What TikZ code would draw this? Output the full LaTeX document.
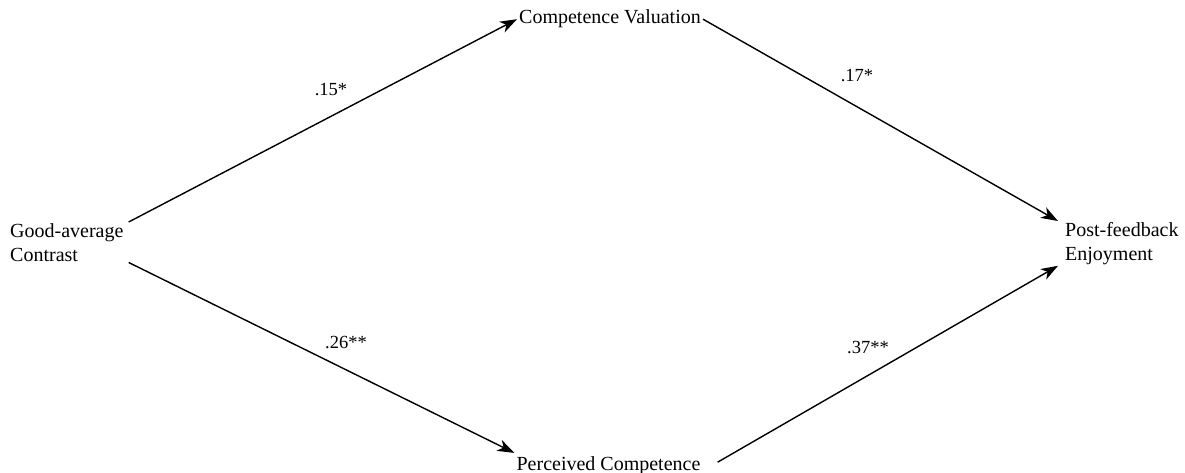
\documentclass[tikz,border=0pt]{standalone}
\usepackage{fontspec}
\setmainfont{Liberation Serif}
\usetikzlibrary{arrows.meta}
\begin{document}
\begin{tikzpicture}[x=1pt,y=-1pt,
  lbl/.style={font=\fontsize{20}{24}\selectfont, inner sep=0pt},
  side/.style={font=\fontsize{20}{24}\selectfont, align=left, inner xsep=5pt, inner ysep=1pt},
  mid/.style={font=\fontsize{20}{24}\selectfont, inner sep=2pt},
  coef/.style={font=\fontsize{18.5}{22}\selectfont, inner sep=0pt},
  path/.style={line width=1.4pt, -{Stealth[length=17pt,width=12pt,inset=5pt]}}]
\useasboundingbox (0,0) rectangle (1185,473);
\node[side, anchor=north west] (ga) at (5,222) {Good-average\\Contrast};
\node[mid, anchor=base] (cv) at (610,24) {Competence Valuation};
\node[mid, inner ysep=3pt, anchor=base] (pc) at (608.5,470) {Perceived Competence};
\node[side, inner xsep=7pt, anchor=north west] (pe) at (1058,221) {Post-feedback\\Enjoyment};
\draw[path] (ga.north east) -- (cv.west);
\draw[path] (cv.east) -- (pe.north west);
\draw[path] (ga.south east) -- (pc.north west);
\draw[path] ([shift={(15,-3)}]pc.east) -- (pe.south west);
\node[coef] (c1) at (331,90) {.15*};
\node[coef] (c2) at (857,76) {.17*};
\node[coef] (c3) at (346,343) {.26**};
\node[coef] (c4) at (868,348) {.37**};
\end{tikzpicture}
\end{document}
